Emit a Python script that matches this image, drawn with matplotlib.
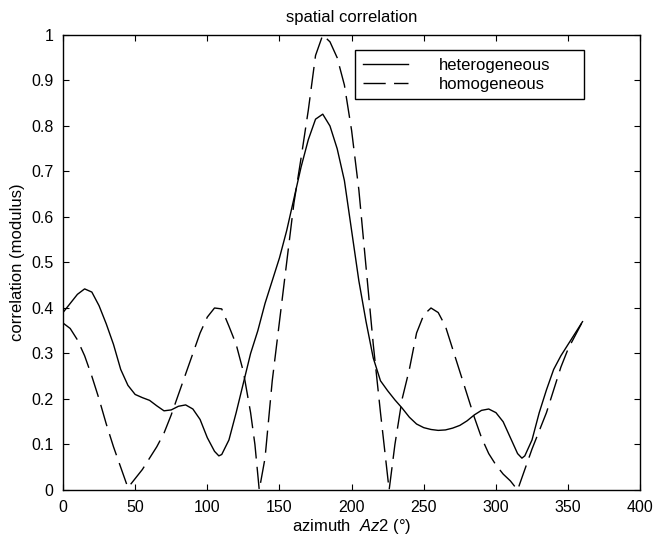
import matplotlib.pyplot as plt

# azimuth (deg) and correlation modulus
az_het = [0, 5, 10, 15, 20, 25, 30, 35, 40, 45, 50, 55, 60, 65, 70, 75, 80, 85,
          90, 95, 100, 105, 108, 110, 115, 120, 125, 130, 135, 140, 145, 150,
          155, 160, 165, 170, 175, 180, 185, 190, 195, 200, 205, 210, 215, 220,
          225, 230, 235, 240, 245, 250, 255, 260, 265, 270, 275, 280, 285, 290,
          295, 300, 305, 310, 315, 318, 320, 325, 330, 335, 340, 345, 350, 355,
          360]
corr_het = [0.39, 0.41, 0.43, 0.442, 0.435, 0.405, 0.365, 0.32, 0.265, 0.23,
            0.21, 0.203, 0.197, 0.185, 0.174, 0.176, 0.184, 0.187, 0.178,
            0.155, 0.115, 0.085, 0.075, 0.078, 0.11, 0.17, 0.235, 0.30, 0.35,
            0.41, 0.46, 0.51, 0.57, 0.64, 0.71, 0.77, 0.815, 0.826, 0.80, 0.75,
            0.68, 0.57, 0.46, 0.37, 0.29, 0.24, 0.218, 0.198, 0.18, 0.16,
            0.145, 0.137, 0.133, 0.131, 0.132, 0.136, 0.142, 0.152, 0.165,
            0.175, 0.178, 0.17, 0.15, 0.115, 0.08, 0.07, 0.075, 0.11, 0.17,
            0.22, 0.265, 0.295, 0.32, 0.345, 0.37]

az_hom = [0, 5, 10, 15, 20, 25, 30, 35, 40, 45, 50, 55, 60, 65, 70, 75, 80, 85,
          90, 95, 100, 105, 110, 115, 120, 125, 130, 133, 136, 140, 145, 150,
          155, 160, 165, 170, 175, 180, 185, 190, 195, 200, 205, 210, 215, 220,
          226, 230, 235, 240, 245, 250, 255, 260, 265, 270, 275, 280, 285, 290,
          295, 300, 305, 310, 315, 320, 325, 330, 335, 340, 345, 350, 355, 360]
corr_hom = [0.367, 0.355, 0.33, 0.295, 0.25, 0.20, 0.145, 0.095, 0.05, 0.005,
            0.025, 0.045, 0.07, 0.095, 0.125, 0.165, 0.21, 0.255, 0.30, 0.345,
            0.38, 0.40, 0.398, 0.36, 0.32, 0.26, 0.17, 0.10, 0.0, 0.07, 0.24,
            0.37, 0.50, 0.63, 0.73, 0.835, 0.955, 1.0, 0.985, 0.95, 0.89, 0.79,
            0.66, 0.49, 0.32, 0.17, 0.0, 0.10, 0.20, 0.265, 0.345, 0.385,
            0.40, 0.39, 0.36, 0.31, 0.26, 0.21, 0.16, 0.115, 0.08, 0.055,
            0.035, 0.02, 0.0, 0.045, 0.09, 0.13, 0.17, 0.22, 0.27, 0.31, 0.34,
            0.37]

plt.rcParams['font.family'] = ['Liberation Sans', 'DejaVu Sans']
plt.rcParams['mathtext.fontset'] = 'custom'
plt.rcParams['mathtext.rm'] = 'Liberation Sans'
plt.rcParams['mathtext.it'] = 'Liberation Sans:italic'

fig = plt.figure(figsize=(6.56, 5.4), dpi=100)
ax = fig.add_axes([0.096, 0.0926, 0.88, 0.8426])

ax.plot(az_het, corr_het, color='black', lw=1.0, label='heterogeneous')
ax.plot(az_hom, corr_hom, color='black', lw=1.0, dashes=(16, 6),
        label='homogeneous')

ax.set_xlim(0, 400)
ax.set_ylim(0, 1)
ax.set_xticks(range(0, 401, 50))
ax.set_yticks([i / 10 for i in range(11)])
ax.set_yticklabels(['0', '0.1', '0.2', '0.3', '0.4', '0.5', '0.6', '0.7',
                    '0.8', '0.9', '1'])
ax.tick_params(direction='in', top=True, right=True, length=4,
               labelsize=11.5, pad=7)
for s in ax.spines.values():
    s.set_linewidth(1.0)

ax.set_title('spatial correlation', fontsize=12, pad=9)
ax.set_xlabel('azimuth  $\\it{Az2}$ (°)', fontsize=12, labelpad=2)
ax.set_ylabel('correlation (modulus)', fontsize=12, labelpad=4)

leg = ax.legend(loc='upper left', bbox_to_anchor=(0.506, 0.5, 0.397, 0.467),
                mode='expand', fontsize=12, handlelength=2.7,
                handletextpad=1.9, fancybox=False, framealpha=1,
                edgecolor='black', borderpad=0.45, labelspacing=0.25,
                borderaxespad=0)
leg.get_frame().set_linewidth(1.0)

fig.savefig('out.png', dpi=100)
